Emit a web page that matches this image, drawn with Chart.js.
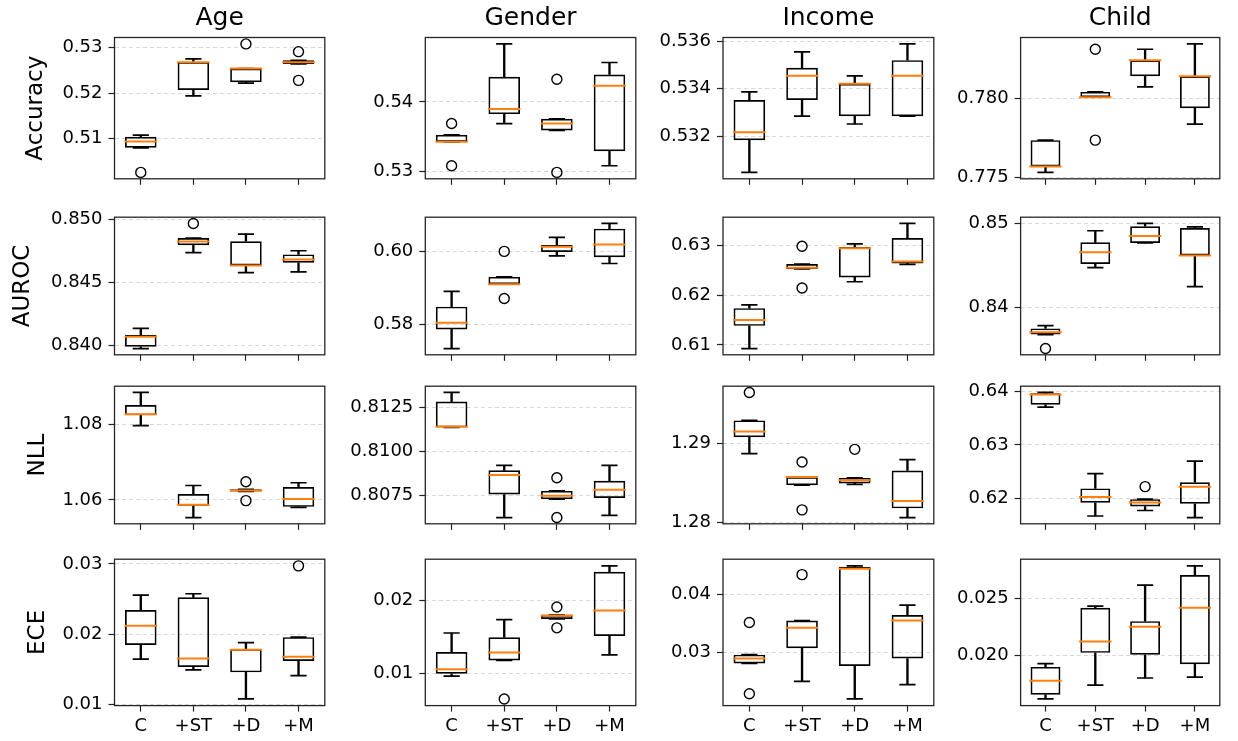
<!DOCTYPE html>
<html><head><meta charset="utf-8">
<script src="https://cdn.jsdelivr.net/npm/chart.js@4/dist/chart.umd.min.js"></script>
<style>
html,body{margin:0;padding:0;background:#fff;overflow:hidden;width:1238px;height:741px;position:relative;}
canvas{position:absolute;}
</style></head><body>
<script>
const categories = ['C', '+ST', '+D', '+M'];
const attributes = ['Age', 'Gender', 'Income', 'Child'];
const metrics = ['Accuracy', 'AUROC', 'NLL', 'ECE'];

// each box: [lower whisker, Q1, median, Q3, upper whisker]
const accAge    = [[0.5080,0.5080,0.5094,0.5104,0.5108],[0.5194,0.5207,0.5268,0.5268,0.5275],[0.5222,0.5224,0.5254,0.5254,0.5254],[0.5264,0.5264,0.5268,0.5272,0.5272]];
const accAgeOut = [[0.5026],[],[0.5308],[0.5291,0.5228]];
const accGender    = [[0.53425,0.53425,0.53425,0.53525,0.53525],[0.53688,0.53824,0.53896,0.54362,0.54833],[0.53588,0.53588,0.53688,0.53756,0.53756],[0.53081,0.5329,0.54231,0.54394,0.54566]];
const accGenderOut = [[0.53688,0.53081],[],[0.54326,0.52986],[]];
const accIncome    = [[0.53049,0.53184,0.53217,0.53353,0.53387],[0.53285,0.53353,0.53454,0.53488,0.53555],[0.53252,0.53285,0.53421,0.53421,0.53454],[0.53285,0.53285,0.53454,0.5352,0.53588]];
const accIncomeOut = [[],[],[],[]];
const accChild    = [[0.7753,0.77568,0.77568,0.77735,0.77735],[0.78008,0.78008,0.78008,0.78042,0.78042],[0.78074,0.78141,0.78243,0.78243,0.78313],[0.77837,0.77938,0.78141,0.78141,0.78347]];
const accChildOut = [[],[0.78313,0.77735],[],[]];

const aurocAge    = [[0.83976,0.8399,0.8407,0.84083,0.84136],[0.84735,0.84794,0.84823,0.8485,0.8485],[0.84577,0.84633,0.84633,0.84825,0.84881],[0.84582,0.84655,0.8468,0.84721,0.8475]];
const aurocAgeOut = [[],[0.84966],[],[]];
const aurocGender    = [[0.57333,0.57858,0.58042,0.58483,0.589],[0.591,0.591,0.591,0.593,0.593],[0.59875,0.59983,0.60125,0.60175,0.60383],[0.59667,0.59842,0.60192,0.60625,0.60767]];
const aurocGenderOut = [[],[0.600,0.58708],[],[]];
const aurocIncome    = [[0.60927,0.61382,0.61498,0.61737,0.61804],[0.62523,0.62523,0.62547,0.62621,0.62621],[0.62266,0.62352,0.62939,0.62963,0.63024],[0.62615,0.62633,0.6267,0.63141,0.63434]];
const aurocIncomeOut = [[],[0.62976,0.62141],[],[]];
const aurocChild    = [[0.83676,0.83676,0.83702,0.83749,0.83782],[0.84473,0.84516,0.84658,0.84775,0.84913],[0.84767,0.84767,0.84851,0.84967,0.85],[0.84247,0.84618,0.84618,0.84945,0.8496]];
const aurocChildOut = [[0.83509],[],[],[]];

const nllAge    = [[1.0796,1.08234,1.08266,1.08508,1.08839],[1.05532,1.05847,1.05871,1.06153,1.06379],[1.0622,1.0622,1.0625,1.0628,1.0628],[1.058,1.05815,1.06024,1.0634,1.06452]];
const nllAgeOut = [[],[],[1.0648,1.0598],[]];
const nllGender    = [[0.81138,0.81138,0.81142,0.81285,0.81337],[0.80624,0.80755,0.80867,0.80893,0.80921],[0.80729,0.80729,0.80748,0.80776,0.80776],[0.80636,0.80736,0.80783,0.80834,0.80921]];
const nllGenderOut = [[],[],[0.80851,0.80624],[]];
const nllIncome    = [[1.28872,1.29078,1.29151,1.29291,1.29291],[1.28473,1.28473,1.28578,1.28578,1.28578],[1.28484,1.28496,1.28535,1.28566,1.28566],[1.28066,1.28182,1.28275,1.28659,1.28795]];
const nllIncomeOut = [[1.29643],[1.28767,1.28163],[1.28926],[]];
const nllChild    = [[0.63707,0.63753,0.63943,0.63966,0.63983],[0.61667,0.61914,0.62023,0.62184,0.6246],[0.6177,0.61845,0.6192,0.61983,0.61983],[0.61638,0.61897,0.62213,0.62299,0.62695]];
const nllChildOut = [[],[],[0.62218],[]];

const eceAge    = [[0.01646,0.01846,0.02121,0.02343,0.02557],[0.01492,0.01534,0.01655,0.02524,0.02575],[0.01079,0.01457,0.0178,0.0179,0.01879],[0.0141,0.01618,0.01678,0.01958,0.01958]];
const eceAgeOut = [[],[],[],[0.02972]];
const eceGender    = [[0.00964,0.00996,0.01058,0.01295,0.01554],[0.01179,0.01179,0.01286,0.01496,0.01737],[0.01746,0.01746,0.01795,0.01804,0.01804],[0.01254,0.01513,0.01862,0.02393,0.02473]];
const eceGenderOut = [[],[0.00652],[0.01911,0.01625],[]];
const eceIncome    = [[0.02803,0.02803,0.02888,0.02955,0.02955],[0.02494,0.03067,0.03421,0.03545,0.03545],[0.0219,0.02758,0.04438,0.04472,0.04489],[0.02438,0.02888,0.03545,0.0364,0.03809]];
const eceIncomeOut = [[0.03511,0.02281],[0.04337],[],[]];
const eceChild    = [[0.0162,0.01657,0.0178,0.019,0.01929],[0.0174,0.02023,0.02123,0.02417,0.02431],[0.01803,0.02006,0.02251,0.023,0.02614],[0.01811,0.01923,0.02417,0.02703,0.02783]];
const eceChildOut = [[],[],[],[]];

// tick labels per panel
const accTicks   = [[0.51,0.52,0.53],[0.53,0.54],[0.532,0.534,0.536],[0.775,0.780]];
const aurocTicks = [[0.840,0.845,0.850],[0.58,0.60],[0.61,0.62,0.63],[0.84,0.85]];
const nllTicks   = [[1.06,1.08],[0.8075,0.8100,0.8125],[1.28,1.29],[0.62,0.63,0.64]];
const eceTicks   = [[0.01,0.02,0.03],[0.01,0.02],[0.03,0.04],[0.020,0.025]];
const tickDecimals = [[2,2,3,3],[3,2,2,2],[2,4,2,2],[2,2,2,3]];

const statsGrid = [[accAge,accGender,accIncome,accChild],[aurocAge,aurocGender,aurocIncome,aurocChild],[nllAge,nllGender,nllIncome,nllChild],[eceAge,eceGender,eceIncome,eceChild]];
const outGrid = [[accAgeOut,accGenderOut,accIncomeOut,accChildOut],[aurocAgeOut,aurocGenderOut,aurocIncomeOut,aurocChildOut],[nllAgeOut,nllGenderOut,nllIncomeOut,nllChildOut],[eceAgeOut,eceGenderOut,eceIncomeOut,eceChildOut]];
const tickGrid = [accTicks, aurocTicks, nllTicks, eceTicks];

// ---- layout (pixels) ----
const colLeft = [114.5, 425.3, 723.0, 1020.6];
const rowTop = [37.5, 213.5, 382.3, 555.3];
const PW = 216.5, PH = 150.3;
const yTitlePad = [22.7, 8.8, 24.6, 24.6];
const ORANGE = '#ff7f0e';

Chart.defaults.font.family = "'DejaVu Sans', sans-serif";
Chart.defaults.color = '#000';

const framePlugin = {
  id: 'frame',
  afterDatasetsDraw(chart) {
    const {ctx, chartArea: a} = chart;
    ctx.save();
    ctx.strokeStyle = '#262626';
    ctx.lineWidth = 1.3;
    ctx.strokeRect(a.left, a.top, a.right - a.left, a.bottom - a.top);
    ctx.restore();
  }
};

function build(r, c) {
  const stats = statsGrid[r][c], outs = outGrid[r][c], ticks = tickGrid[r][c], dec = tickDecimals[r][c];
  const first = c === 0, top = r === 0, bottom = r === 3;
  const canvasLeft = first ? 0 : Math.floor(colLeft[c] - 80);
  const YW = colLeft[c] - canvasLeft;
  const canvasTop = top ? 0 : Math.floor(rowTop[r] - 14);
  const topOff = rowTop[r] - canvasTop;
  const h = Math.ceil(topOff + PH + (bottom ? 34 : 9));
  const XH = h - topOff - PH;
  const w = c === 3 ? 1238 - canvasLeft : Math.ceil(YW + PW + 12);
  const PR = w - YW - PW;

  let lo = Infinity, hi = -Infinity;
  stats.forEach((s, i) => {
    lo = Math.min(lo, s[0], ...outs[i]);
    hi = Math.max(hi, s[4], ...outs[i]);
  });
  const m = (hi - lo) * 0.05;

  const caps = [], meds = [], fl = [];
  stats.forEach((s, i) => {
    caps.push({x: categories[i], y: s[0]}, {x: categories[i], y: s[4]});
    meds.push({x: categories[i], y: s[2]});
    outs[i].forEach(v => fl.push({x: categories[i], y: v}));
  });

  const cv = document.createElement('canvas');
  cv.width = w; cv.height = h;
  cv.style.left = canvasLeft + 'px'; cv.style.top = canvasTop + 'px';
  cv.style.width = w + 'px'; cv.style.height = h + 'px';
  document.body.appendChild(cv);

  new Chart(cv.getContext('2d'), {
    type: 'bar',
    data: {
      labels: categories,
      datasets: [
        {type: 'line', data: meds, showLine: false, pointStyle: 'line', pointRadius: 16.2, pointBorderWidth: 2,
         pointBorderColor: ORANGE, pointBackgroundColor: ORANGE, order: 0},
        {type: 'line', data: caps, showLine: false, pointStyle: 'line', pointRadius: 8.1, pointBorderWidth: 1.7,
         pointBorderColor: '#000', pointBackgroundColor: '#000', order: 1},
        {type: 'line', data: fl, showLine: false, pointStyle: 'circle', pointRadius: 5, pointBorderWidth: 1.4,
         pointBorderColor: '#000', pointBackgroundColor: 'rgba(0,0,0,0)', order: 2, clip: false},
        {type: 'bar', data: stats.map(s => [s[1], s[3]]), backgroundColor: 'rgba(0,0,0,0)', borderColor: '#000',
         borderWidth: 1.7, borderSkipped: false, grouped: false, categoryPercentage: 1, barPercentage: 0.6, order: 3},
        {type: 'bar', data: stats.map(s => [s[0], s[1]]), backgroundColor: '#000', borderWidth: 0,
         barThickness: 1.7, grouped: false, order: 4},
        {type: 'bar', data: stats.map(s => [s[3], s[4]]), backgroundColor: '#000', borderWidth: 0,
         barThickness: 1.7, grouped: false, order: 4}
      ]
    },
    options: {
      responsive: false, animation: false, devicePixelRatio: 1, events: [],
      layout: {padding: {top: top ? 0 : topOff, right: PR, left: 0, bottom: 0}},
      plugins: {
        legend: {display: false}, tooltip: {enabled: false},
        title: top ? {display: true, text: attributes[c], fullSize: false, color: '#000',
          font: {size: 25, weight: 'normal'}, padding: {top: 3, bottom: rowTop[0] - 3 - 30}} : {display: false}
      },
      scales: {
        x: {
          type: 'category', offset: true,
          grid: {offset: false, drawOnChartArea: false, drawTicks: true, tickLength: 6, tickColor: '#222', tickWidth: 1.2},
          border: {display: false},
          ticks: {display: bottom, padding: 4.3, autoSkip: false, maxRotation: 0, font: {size: 18}, color: '#000'},
          afterFit: s => { s.height = XH; s.paddingLeft = 0; s.paddingRight = 0; }
        },
        y: {
          type: 'linear', min: lo - m, max: hi + m,
          afterBuildTicks: s => { s.ticks = ticks.map(v => ({value: v})); },
          ticks: {callback: v => Number(v).toFixed(dec), padding: 6, font: {size: 18}, color: '#000'},
          grid: {color: '#d9d9d9', lineWidth: 1, drawTicks: true, tickLength: 6, tickColor: '#222', tickWidth: 1.2, tickBorderDash: []},
          border: {display: false, dash: [4, 3]},
          title: first ? {display: true, text: metrics[r], color: '#000', font: {size: 23},
            padding: {top: yTitlePad[r], bottom: 0}} : {display: false},
          afterFit: s => { s.width = YW; s.paddingTop = 0; s.paddingBottom = 0; }
        }
      }
    },
    plugins: [framePlugin]
  });
}

for (let r = 0; r < 4; r++) for (let c = 0; c < 4; c++) build(r, c);
</script>
</body></html>
